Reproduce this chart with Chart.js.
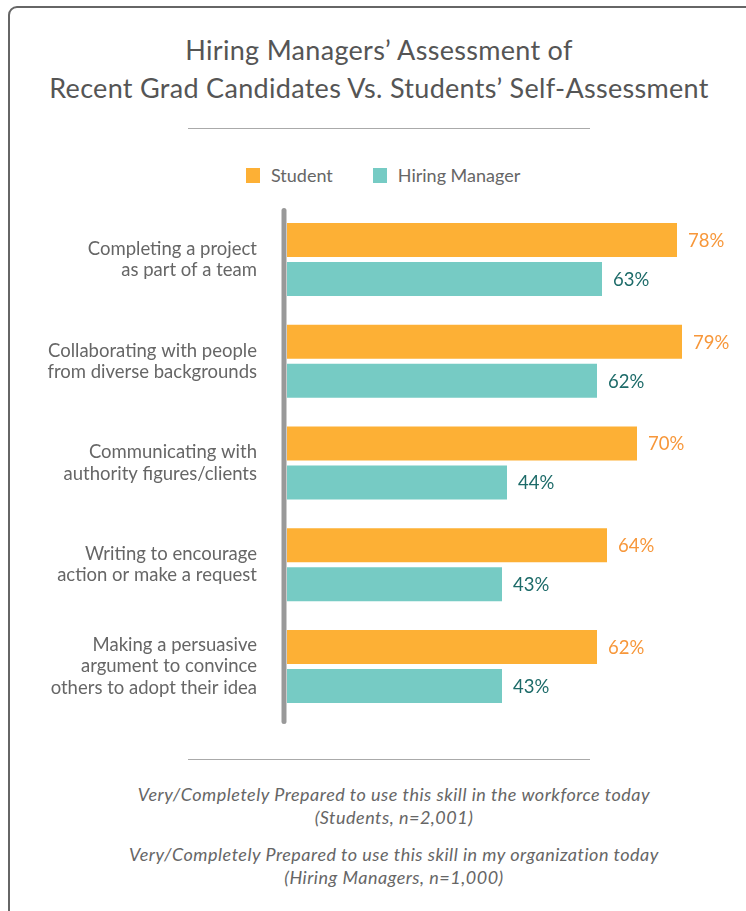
<!DOCTYPE html>
<html>
<head>
<meta charset="utf-8">
<script src="https://cdn.jsdelivr.net/npm/chart.js@4"></script>
<style>
  body { margin: 0; width: 746px; height: 911px; overflow: hidden; background: #fff; font-family: Lato, sans-serif; position: relative; }
  .card { position: absolute; left: 8px; top: 6px; width: 800px; height: 960px; border: 2.5px solid #666; border-radius: 9px; box-sizing: border-box; }
  .title { position: absolute; left: 0; top: 31px; width: 758px; text-align: center; color: #555; font-size: 27px; letter-spacing: 0.3px; line-height: 38px; }
  .sep { position: absolute; left: 188px; width: 402px; height: 0; border-top: 1.5px solid #aaa; }
  .legend { position: absolute; left: 246px; top: 164px; display: flex; align-items: center; font-size: 18px; color: #666; }
  .legend span.box { display: inline-block; width: 14px; height: 15px; margin-right: 11px; }
  .legend span.txt { margin-right: 40px; }
  .notes { position: absolute; left: 0; width: 788px; text-align: center; color: #666; font-style: italic; font-size: 18px; letter-spacing: 0.5px; line-height: 23px; }
  #chart { position: absolute; left: 0; top: 150px; }
</style>
</head>
<body>
<div class="card"></div>
<div class="title">Hiring Managers’ Assessment of<br>Recent Grad Candidates Vs. Students’ Self-Assessment</div>
<div class="sep" style="top:128px"></div>
<div class="legend" id="legend"></div>
<canvas id="chart" width="746" height="580"></canvas>
<div class="sep" style="top:759px"></div>
<div class="notes" style="top:783px">Very/Completely Prepared to use this skill in the workforce today<br>(Students, n=2,001)</div>
<div class="notes" style="top:843px">Very/Completely Prepared to use this skill in my organization today<br>(Hiring Managers, n=1,000)</div>

<script>
//data
const skills = [
  ["Completing a project", "as part of a team"],
  ["Collaborating with people", "from diverse backgrounds"],
  ["Communicating with", "authority figures/clients"],
  ["Writing to encourage", "action or make a request"],
  ["Making a persuasive", "argument to convince", "others to adopt their idea"]
];
const seriesNames = ["Student", "Hiring Manager"];
const studentValues = [78, 79, 70, 64, 62];
const managerValues = [63, 62, 44, 43, 43];

//colors
const barColors = ["#FDB035", "#76CBC4"];
const labelColors = ["#F7973A", "#1D6B69"];

//html legend built from the series
const legend = document.getElementById("legend");
seriesNames.forEach((name, i) => {
  const box = document.createElement("span");
  box.className = "box";
  box.style.background = barColors[i];
  const txt = document.createElement("span");
  txt.className = "txt";
  txt.textContent = name;
  legend.appendChild(box);
  legend.appendChild(txt);
});

//percent labels at the end of each bar
const valueLabels = {
  id: "valueLabels",
  afterDatasetsDraw(chart) {
    const ctx = chart.ctx;
    ctx.save();
    ctx.font = "18.5px Lato";
    ctx.textBaseline = "middle";
    ctx.textAlign = "left";
    chart.data.datasets.forEach((ds, i) => {
      const meta = chart.getDatasetMeta(i);
      ctx.fillStyle = labelColors[i];
      meta.data.forEach((bar, j) => {
        ctx.fillText(ds.data[j] + "%", bar.x + 11, bar.y + 1);
      });
    });
    ctx.restore();
  }
};

//thick grey axis line with round ends
const axisLine = {
  id: "axisLine",
  beforeDatasetsDraw(chart) {
    const { ctx, chartArea } = chart;
    ctx.save();
    ctx.strokeStyle = "#999";
    ctx.lineWidth = 5;
    ctx.lineCap = "round";
    ctx.beginPath();
    ctx.moveTo(chartArea.left - 3, chartArea.top + 2);
    ctx.lineTo(chartArea.left - 3, chartArea.bottom + 4);
    ctx.stroke();
    ctx.restore();
  }
};

const config = {
  type: "bar",
  data: {
    labels: skills,
    datasets: [
      { label: seriesNames[0], data: studentValues, backgroundColor: barColors[0] },
      { label: seriesNames[1], data: managerValues, backgroundColor: barColors[1] }
    ]
  },
  options: {
    indexAxis: "y",
    responsive: false,
    devicePixelRatio: 1,
    animation: false,
    categoryPercentage: 0.767,
    barPercentage: 0.872,
    layout: { padding: { top: 58.6, bottom: 12.6, left: 0, right: 0 } },
    plugins: {
      legend: { display: false },
      tooltip: { enabled: false }
    },
    scales: {
      x: { display: false, min: 0, max: 91.8 },
      y: {
        grid: { display: false, drawTicks: false },
        border: { display: false },
        ticks: {
          color: "#666",
          padding: 30,
          font: { family: "Lato", size: 18.5, lineHeight: 1.14 }
        },
        afterFit(scale) {
          scale.width = 287;
          //no extra room for the tall first/last labels
          scale.paddingTop = 0;
          scale.paddingBottom = 0;
        }
      }
    }
  },
  plugins: [axisLine, valueLabels]
};

new Chart(document.getElementById("chart"), config);
</script>
</body>
</html>
